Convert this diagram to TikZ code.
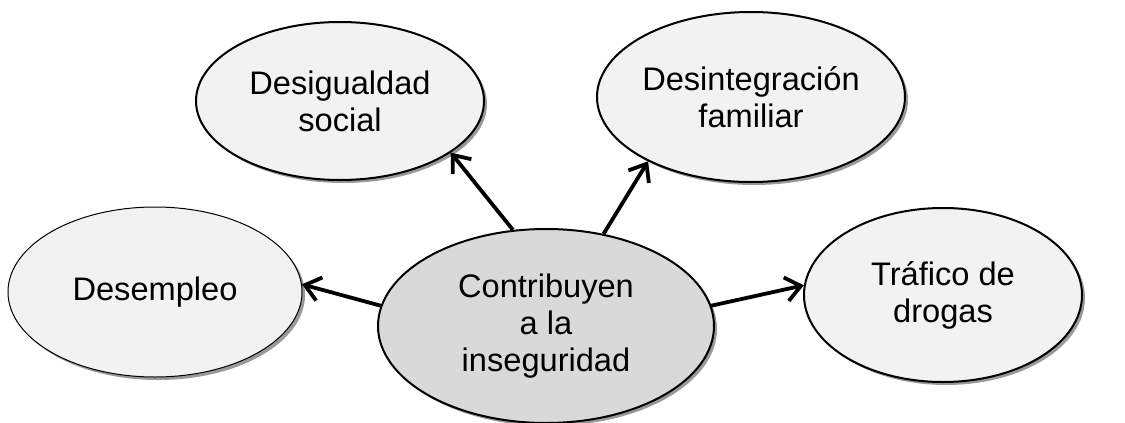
\documentclass[tikz,border=0pt]{standalone}
\usepackage{fontspec}
\setmainfont{Liberation Sans}
\usetikzlibrary{shapes.geometric,shadows,arrows.meta}

\begin{document}
\begin{tikzpicture}[x=0.5pt,y=-0.5pt,
    idea/.style={ellipse, draw, line width=1pt, fill=black!5, align=center,
      font=\fontsize{16.3}{18.5}\selectfont, inner sep=0pt,
      drop shadow={shadow xshift=1.5pt, shadow yshift=-1.5pt, fill=black!40, opacity=1}},
    flecha/.style={-{Straight Barb[length=7.5pt,width=12pt]}, line width=1.9pt}]
  \useasboundingbox (0,0) rectangle (1125,423);
  \node[idea, fill=black!15, minimum width=168pt, minimum height=97pt] (centro) at (546,326) {Contribuyen\\a la\\inseguridad};
  \node[idea, line width=0.5pt, minimum width=147pt, minimum height=85pt] (desempleo) at (155,292) {Desempleo};
  \node[idea, minimum width=144pt, minimum height=79pt] (desigualdad) at (340,101) {Desigualdad\\social};
  \node[idea, minimum width=154pt, minimum height=85pt] (desintegracion) at (751,97) {Desintegración\\familiar};
  \node[idea, minimum width=139pt, minimum height=87pt] (trafico) at (943,295) {Tráfico de\\drogas};
  \draw[flecha] (centro.173) -- (desempleo.3);
  \draw[flecha] (centro.109) -- (desigualdad.335);
  \draw[flecha] (centro.58) -- (desintegracion.212);
  \draw[flecha] (centro.7) -- (trafico.176);
\end{tikzpicture}
\end{document}
